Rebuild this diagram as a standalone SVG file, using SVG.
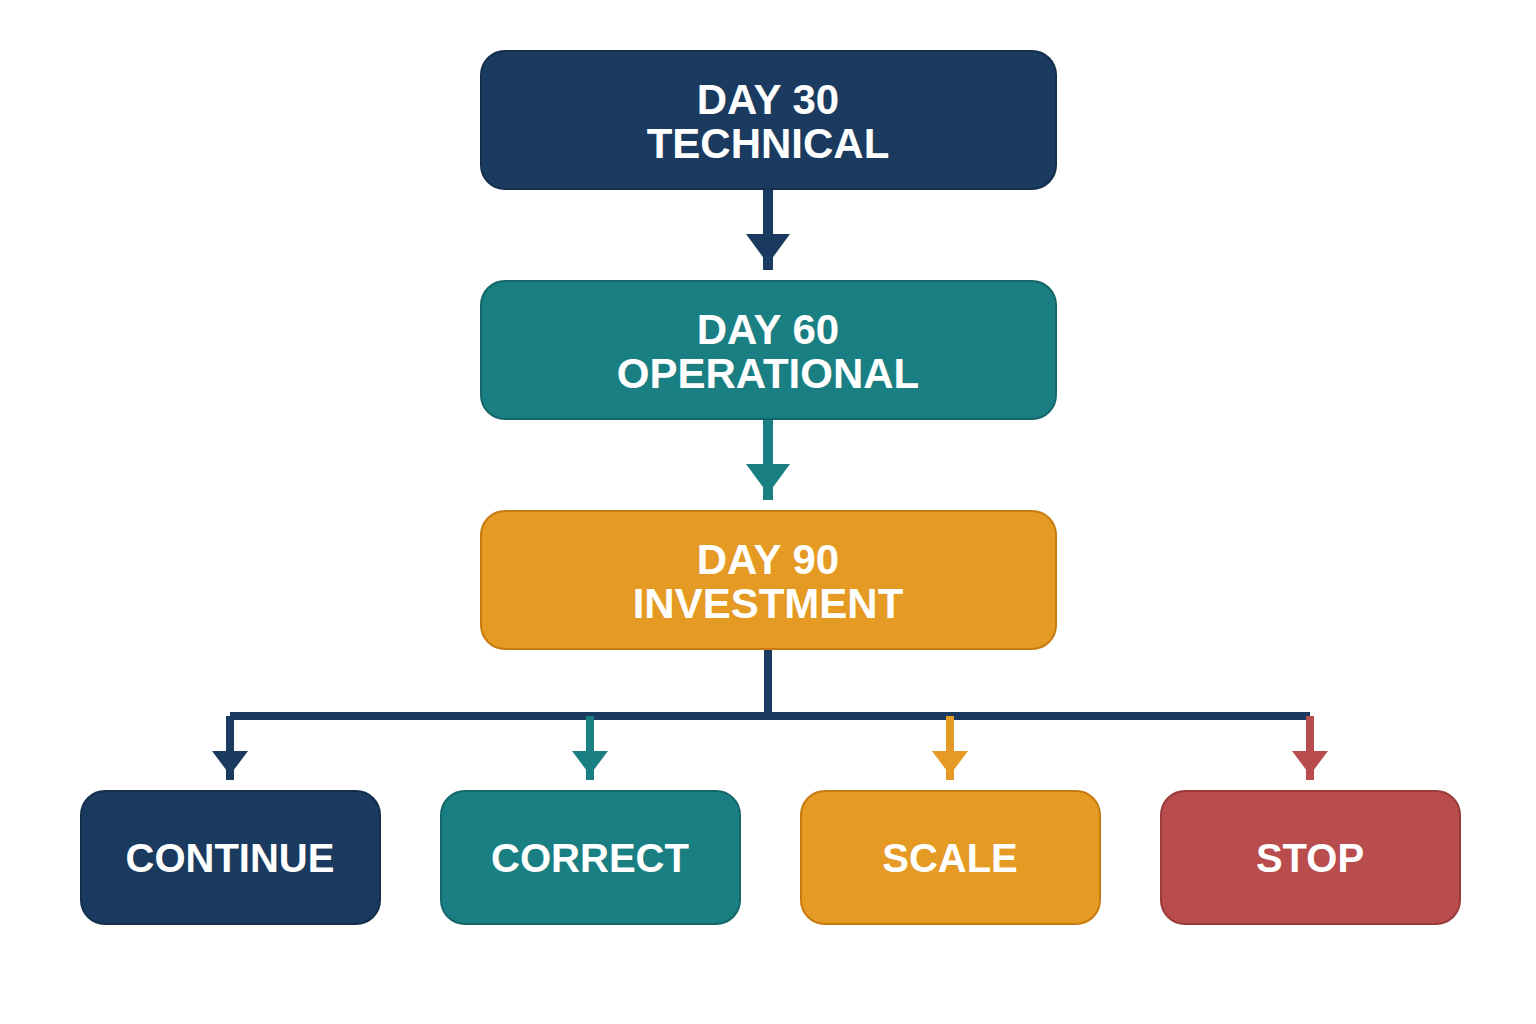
<svg xmlns="http://www.w3.org/2000/svg" width="1536" height="1024" viewBox="0 0 1536 1024">
<style>
text{font-family:"Liberation Sans",Arial,sans-serif;font-weight:bold;fill:#fff;text-anchor:middle}
.t{font-size:42px}.b{font-size:40px}
.navy{fill:#1a3a5f;stroke:#142e4c;stroke-width:2}
.teal{fill:#1a7f82;stroke:#146668;stroke-width:2}
.gold{fill:#e59a23;stroke:#c77a10;stroke-width:2}
.red{fill:#b94c4c;stroke:#9a3a3a;stroke-width:2}
</style>
<rect width="1536" height="1024" fill="#fff"/>
<g id="connectors">
<line x1="768" y1="189" x2="768" y2="270" stroke="#1a3a5f" stroke-width="10"/>
<polygon points="746,234 790,234 768,264" fill="#1a3a5f"/>
<line x1="768" y1="419" x2="768" y2="500" stroke="#1a7f82" stroke-width="10"/>
<polygon points="746,464 790,464 768,494" fill="#1a7f82"/>
<line x1="768" y1="649" x2="768" y2="716" stroke="#1a3a5f" stroke-width="8"/>
<line x1="230" y1="716" x2="1310" y2="716" stroke="#1a3a5f" stroke-width="8"/>
<line x1="230" y1="716" x2="230" y2="780" stroke="#1a3a5f" stroke-width="8"/>
<polygon points="212,751 248,751 230,775" fill="#1a3a5f"/>
<line x1="590" y1="716" x2="590" y2="780" stroke="#1a7f82" stroke-width="8"/>
<polygon points="572,751 608,751 590,775" fill="#1a7f82"/>
<line x1="950" y1="716" x2="950" y2="780" stroke="#e59a23" stroke-width="8"/>
<polygon points="932,751 968,751 950,775" fill="#e59a23"/>
<line x1="1310" y1="716" x2="1310" y2="780" stroke="#b94c4c" stroke-width="8"/>
<polygon points="1292,751 1328,751 1310,775" fill="#b94c4c"/>
</g>
<g id="day30"><rect class="navy" x="481" y="51" width="575" height="138" rx="24"/><text class="t" x="768" y="114">DAY 30</text><text class="t" x="768" y="158">TECHNICAL</text></g>
<g id="day60"><rect class="teal" x="481" y="281" width="575" height="138" rx="24"/><text class="t" x="768" y="344">DAY 60</text><text class="t" x="768" y="388">OPERATIONAL</text></g>
<g id="day90"><rect class="gold" x="481" y="511" width="575" height="138" rx="24"/><text class="t" x="768" y="574">DAY 90</text><text class="t" x="768" y="618">INVESTMENT</text></g>
<g id="continue"><rect class="navy" x="81" y="791" width="299" height="133" rx="24"/><text class="b" x="230" y="872">CONTINUE</text></g>
<g id="correct"><rect class="teal" x="441" y="791" width="299" height="133" rx="24"/><text class="b" x="590" y="872">CORRECT</text></g>
<g id="scale"><rect class="gold" x="801" y="791" width="299" height="133" rx="24"/><text class="b" x="950" y="872">SCALE</text></g>
<g id="stop"><rect class="red" x="1161" y="791" width="299" height="133" rx="24"/><text class="b" x="1310" y="872">STOP</text></g>
</svg>
